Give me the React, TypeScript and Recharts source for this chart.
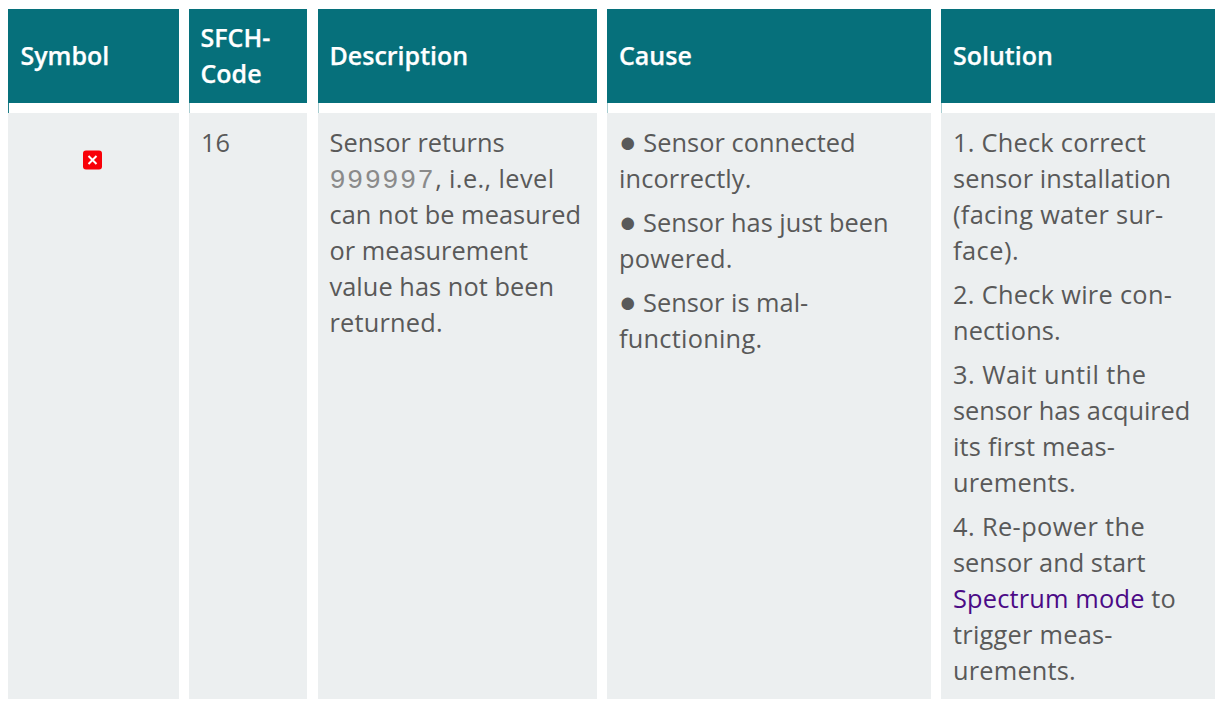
import React from "react";
import { ComposedChart, XAxis, YAxis, ReferenceArea, ReferenceLine, Scatter } from "recharts";

const columnEdges: [number, number][] = [[8, 179], [189, 307], [318, 597], [607, 931], [941, 1215]];
const headerBand: [number, number] = [9, 103];
const bodyBand: [number, number] = [113, 699];

const headerLabels = ["Symbol", "SFCH-", "Code", "Description", "Cause", "Solution"];
const codeText = ["16"];
const descriptionText = ["Sensor returns", "999997, i.e., level", "can not be measured", "or measurement", "value has not been", "returned."];
const causeText = ["● Sensor connected", "incorrectly.", "● Sensor has just been", "powered.", "● Sensor is mal-", "functioning."];
const solutionText = [
  "1. Check correct", "sensor installation", "(facing water sur-", "face).",
  "2. Check wire con-", "nections.",
  "3. Wait until the", "sensor has acquired", "its first meas-", "urements.",
  "4. Re-power the", "sensor and start", "Spectrum mode to", "trigger meas-", "urements.",
];

// layout, kept apart from the text
const FONT = "'Open Sans', sans-serif";
const TEAL = "#06707B";
const BODY = "#ECEFF0";
const INK = "#595959";
const LINK = "#4B0A86";
const MONO = "#8a8a8a";

const headerX = [20.5, 200.5, 200.5, 329.5, 619, 953];
const headerY = [65, 47, 83, 65, 65, 65];
const codeY = [152];
const descriptionY = [152, 188, 224, 260, 296, 332];
const causeY = [152, 188, 232, 268, 312, 348];
const solutionY = [152, 188, 224, 260, 304, 340, 384, 420, 456, 492, 536, 572, 608, 644, 680];
const descriptionTrack = [0, 0.4, 0.05, 0, 0.05, 0.2];
const causeTrack = [0.05, 0.1, 0, 0.3, 0, 0.25];
const solutionTrack = [0.25, 0.1, 0.33, 0.5, 0.3, 0.1, 0.47, -0.05, 0.2, 0.2, 0.4, 0, 0.18, 0.25, 0.2];

const rows = (texts: string[], x: number, ys: number[], tracks?: number[]) =>
  texts.map((text, i) => ({ x, y: ys[i], text, track: tracks ? tracks[i] : 0 }));

const headerRows = headerLabels.map((text, i) => ({ x: headerX[i], y: headerY[i], text }));
const bodyRows = [
  ...rows(codeText, 201, codeY),
  ...rows(descriptionText, 329.5, descriptionY, descriptionTrack),
  ...rows(causeText, 619, causeY, causeTrack),
  ...rows(solutionText, 953, solutionY, solutionTrack),
];
const symbolPoint = [{ x: 92.5, y: 160 }];

const HeaderText = (p: any) => (
  <text x={p.cx} y={p.cy} fill="#ffffff" stroke="#ffffff" strokeWidth={0.25} fontFamily={FONT} fontWeight={600} fontSize={25}>
    {p.payload.text}
  </text>
);

const BodyText = (p: any) => {
  const parts = String(p.payload.text).split(/(999997|Spectrum mode|●)/).filter(Boolean);
  return (
    <text x={p.cx} y={p.cy} fill={INK} fontFamily={FONT} fontSize={25.35} letterSpacing={p.payload.track} xmlSpace="preserve">
      {parts.map((s: string, i: number) =>
        s === "999997" ? (
          <tspan key={i} fontFamily="'Liberation Mono', monospace" fontSize={27} letterSpacing={1.4} fill={MONO}>{s}</tspan>
        ) : s === "Spectrum mode" ? (
          <tspan key={i} fill={LINK}>{s}</tspan>
        ) : s === "●" ? (
          <tspan key={i} fontSize={29}>{s}</tspan>
        ) : (
          <tspan key={i}>{s}</tspan>
        )
      )}
    </text>
  );
};

const CrossIcon = (p: any) => (
  <g>
    <rect x={p.cx - 9.5} y={p.cy - 9.5} width={19} height={19} rx={3} fill="#F80008" />
    <path d={`M${p.cx - 4} ${p.cy - 4}L${p.cx + 4} ${p.cy + 4}M${p.cx + 4} ${p.cy - 4}L${p.cx - 4} ${p.cy + 4}`} stroke="#fff" strokeWidth={2} />
  </g>
);

export default function App() {
  return (
    <div style={{ width: 1215, height: 702 }}>
      <style>{"html,body{margin:0;padding:0;background:#fff}"}</style>
      <ComposedChart width={1215} height={702} margin={{ top: 0, right: 0, bottom: 0, left: 0 }}>
        <XAxis type="number" dataKey="x" domain={[0, 1215]} hide allowDataOverflow />
        <YAxis type="number" dataKey="y" domain={[0, 702]} reversed hide allowDataOverflow />
        {columnEdges.map(([a, b], i) => (
          <ReferenceArea key={`h${i}`} x1={a} x2={b} y1={headerBand[0]} y2={headerBand[1]} fill={TEAL} fillOpacity={1} stroke="none" />
        ))}
        {columnEdges.map(([a, b], i) => (
          <ReferenceArea key={`b${i}`} x1={a} x2={b} y1={bodyBand[0]} y2={bodyBand[1]} fill={BODY} fillOpacity={1} stroke="none" />
        ))}
        {columnEdges.map(([a], i) => (
          <ReferenceLine key={`t${i}`} segment={[{ x: a + 0.5, y: headerBand[1] }, { x: a + 0.5, y: bodyBand[0] }]} stroke={TEAL} strokeOpacity={i === 0 ? 0.9 : 0.35} />
        ))}
        <Scatter data={headerRows} shape={HeaderText} isAnimationActive={false} />
        <Scatter data={bodyRows} shape={BodyText} isAnimationActive={false} />
        <Scatter data={symbolPoint} shape={CrossIcon} isAnimationActive={false} />
      </ComposedChart>
    </div>
  );
}
